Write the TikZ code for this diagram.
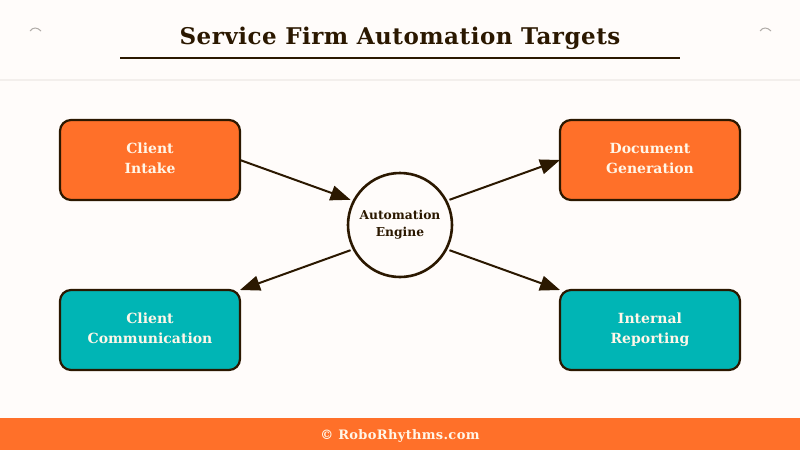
\documentclass[tikz,border=0pt]{standalone}
\usepackage{fontspec}
\setmainfont{DejaVu Serif}
\usetikzlibrary{arrows.meta}
\definecolor{ink}{HTML}{2B1800}
\definecolor{paper}{HTML}{FFFCFA}
\definecolor{orng}{HTML}{FF7029}
\definecolor{teal2}{HTML}{00B5B5}
\definecolor{cream}{HTML}{FFF6E8}
\definecolor{rulec}{HTML}{F3EFEC}
\definecolor{arcgrey}{HTML}{B0ACA8}
\newcommand{\lineA}[1]{\vphantom{Ag}#1}
\tikzset{
  card/.style={draw=ink,line width=2.2pt,rounded corners=11pt,minimum width=180pt,minimum height=80pt,
    text=cream,align=center,font=\fontsize{14}{20}\selectfont\bfseries,outer sep=0pt,inner sep=0pt},
  hub/.style={circle,draw=ink,line width=2.6pt,fill=paper,minimum size=104pt,text=ink,align=center,
    font=\fontsize{12.3}{17}\selectfont\bfseries,outer sep=3.5pt,inner sep=0pt},
  link/.style={draw=ink,line width=2pt,-{Triangle[length=20pt,width=15pt]}},
  deco/.style={draw=arcgrey,line width=1pt}
}
\begin{document}
\begin{tikzpicture}[x=1pt,y=-1pt]
\useasboundingbox (0,0) rectangle (800,450);
\fill[paper] (0,0) rectangle (800,450);
\fill[rulec] (0,79) rectangle (800,81);
\node[text=ink,font=\fontsize{23}{28}\selectfont\bfseries,inner sep=0pt,anchor=base] (title) at (400,44.5) {\addfontfeature{LetterSpace=2.2}Service Firm Automation Targets};
\coordinate (ruleL) at (120,58);
\coordinate (ruleR) at (680,58);
\draw[ink,line width=2pt] (ruleL) -- (ruleR);
\coordinate (arcA) at (30,31);
\coordinate (arcB) at (760,31);
\draw[deco] (arcA) .. controls (33,27) and (37,27) .. (41,31);
\draw[deco] (arcB) .. controls (763,27) and (767,27) .. (771,31);
\node[card,fill=orng] (intake) at (150,160) {\lineA{Client}\\\lineA{Intake}};
\node[card,fill=orng] (docgen) at (650,160) {\lineA{Document}\\\lineA{Generation}};
\node[card,fill=teal2] (comm) at (150,330) {\lineA{Client}\\\lineA{Communication}};
\node[card,fill=teal2] (report) at (650,330) {\lineA{Internal}\\\lineA{Reporting}};
\node[hub] (engine) at (400,225) {\lineA{Automation}\\\lineA{Engine}};
\draw[link] (intake.east) -- (engine.153);
\draw[link] (engine.27) -- (docgen.west);
\draw[link] (engine.207) -- (comm.north east);
\draw[link] (engine.333) -- (report.north west);
\fill[orng] (0,418) rectangle (800,450);
\node[text=cream,font=\fontsize{13}{16}\selectfont\bfseries,inner sep=0pt,anchor=base] (foot) at (400,439) {\addfontfeature{LetterSpace=2.6}© RoboRhythms.com};
\end{tikzpicture}
\end{document}
